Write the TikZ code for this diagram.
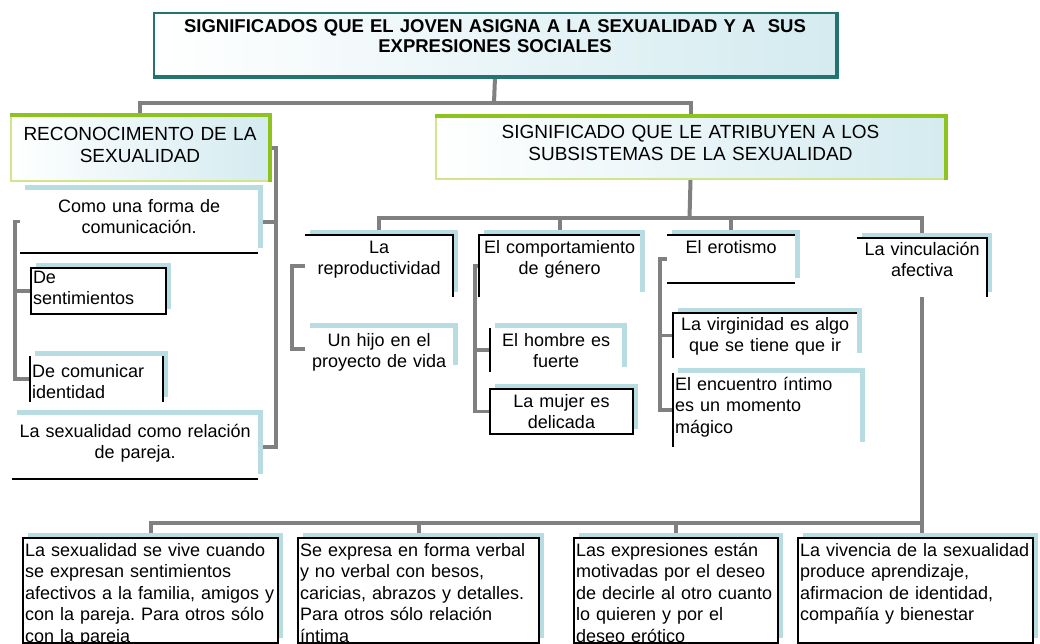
\documentclass[tikz,border=0pt]{standalone}
\usepackage{fontspec}
\setmainfont{Liberation Sans}
\usetikzlibrary{shadows, backgrounds}
\frenchspacing

\definecolor{linegray}{RGB}{128,128,128}
\definecolor{shadowblue}{RGB}{183,221,226}
\definecolor{limegreen}{RGB}{140,195,30}
\definecolor{palegreen}{RGB}{210,228,140}
\definecolor{darkteal}{RGB}{35,115,110}
\definecolor{softblue}{RGB}{212,235,240}

\tikzset{
    conn/.style={draw=linegray, line width=4pt},
    bconn/.style={draw=linegray, line width=3.5pt},
    blk/.style={draw=black, line width=2pt},
    grnedge/.style={draw=limegreen, line width=4.5pt},
    tealedge/.style={draw=darkteal, line width=4pt},
    ttlbox/.style={left color=white, right color=softblue, draw=darkteal, line width=2pt,
        inner xsep=2pt, inner ysep=0pt, align=center, font=\fontsize{18.5}{20}\selectfont\bfseries},
    hdrbox/.style={left color=white, right color=softblue, draw=palegreen, line width=2pt,
        inner xsep=2pt, inner ysep=0pt, align=center, font=\fontsize{19}{22}\selectfont},
    leaf/.style={fill=white, general shadow={fill=shadowblue, shadow xshift=5pt, shadow yshift=5pt},
        inner xsep=2pt, inner ysep=0pt, anchor=north west, font=\fontsize{18}{21.5}\selectfont},
}

\begin{document}
\begin{tikzpicture}[x=1pt, y=-1pt]
    \useasboundingbox (0,0) rectangle (1040,644);

    % Add the headers
    \node[ttlbox, anchor=north west, text width=678pt, text height=19.5pt, text depth=43.5pt] (ttl) at (153,12)
        {SIGNIFICADOS QUE EL JOVEN ASIGNA A LA SEXUALIDAD Y A\ \ SUS\\EXPRESIONES SOCIALES};
    \node[hdrbox, anchor=north west, text width=254pt, text height=25pt, text depth=40pt] (recon) at (10,115)
        {RECONOCIMENTO DE LA\\SEXUALIDAD};
    \node[hdrbox, anchor=north west, text width=505pt, text height=22pt, text depth=40pt] (signif) at (435,116)
        {SIGNIFICADO QUE LE ATRIBUYEN A LOS\\SUBSISTEMAS DE LA SEXUALIDAD};

    % Add the left column
    \node[leaf, align=center, text width=234pt, text height=22pt, text depth=41pt] (com) at (20,190)
        {Como una forma de\\comunicación.};
    \node[leaf, draw=black, line width=2pt, align=left, text width=131pt, text height=15pt, text depth=31pt] (sent) at (30,267)
        {De\\sentimientos};
    \node[leaf, align=left, text width=129pt, text height=21pt, text depth=25pt] (ident) at (30,356)
        {De comunicar\\identidad};
    \node[leaf, align=center, text width=242pt, text height=22pt, text depth=42pt] (pareja) at (12,415)
        {La sexualidad como relación\\de pareja.};

    % Add the subsystems
    \node[leaf, align=center, text width=144pt, text height=18pt, text depth=44pt] (repro) at (305,235)
        {La\\reproductividad};
    \node[leaf, align=center, text width=144pt, text height=18pt, text depth=24pt] (hijo) at (305,328)
        {Un hijo en el\\proyecto de vida};
    \node[leaf, align=center, text width=157pt, text height=18pt, text depth=44pt] (comp) at (479,235)
        {El comportamiento\\de género};
    \node[leaf, align=center, text width=128pt, text height=18pt, text depth=26pt] (fuerte) at (490,328)
        {El hombre es\\fuerte};
    \node[leaf, draw=black, line width=2pt, align=center, text width=139pt, text height=18pt, text depth=27pt] (delic) at (489,388)
        {La mujer es\\delicada};
    \node[leaf, align=center, text width=124pt, text height=18pt, text depth=30pt] (erot) at (667,235)
        {El erotismo};
    \node[leaf, align=center, text width=180pt, text height=17pt, text depth=28pt] (virg) at (673,313)
        {La virginidad es algo\\que se tiene que ir};
    \node[leaf, align=left, text width=183pt, text height=17pt, text depth=57pt] (encu) at (673,373)
        {El encuentro íntimo\\es un momento\\mágico};
    \node[leaf, align=center, text width=126pt, text height=17pt, text depth=42pt] (vinc) at (857,238)
        {La vinculación\\afectiva};

    % Add the bottom row
    \node[leaf, draw=black, line width=2pt, align=left, text width=251pt, text height=18pt, text depth=87pt] (b1) at (22,537)
        {La sexualidad se vive cuando\\se expresan sentimientos\\afectivos a la familia, amigos y\\con la pareja. Para otros sólo\\con la pareja};
    \node[leaf, draw=black, line width=2pt, align=left, text width=237pt, text height=18pt, text depth=87pt] (b2) at (297,537)
        {Se expresa en forma verbal\\y no verbal con besos,\\caricias, abrazos y detalles.\\Para otros sólo relación\\íntima};
    \node[leaf, draw=black, line width=2pt, align=left, text width=200pt, text height=18pt, text depth=87pt] (b3) at (573,537)
        {Las expresiones están\\motivadas por el deseo\\de decirle al otro cuanto\\lo quieren y por el\\deseo erótico};
    \node[leaf, draw=black, line width=2pt, align=left, text width=231pt, text height=18pt, text depth=87pt] (b4) at (797,537)
        {La vivencia de la sexualidad\\produce aprendizaje,\\afirmacion de identidad,\\compañía y bienestar};

    % Box edges
    \draw[tealedge] (ttl.north east) -- (ttl.south east) -- (ttl.south west);
    \draw[grnedge] (recon.north west) -- (recon.north east) -- (recon.south east);
    \draw[grnedge] (signif.north west) -- (signif.north east) -- (signif.south east);
    \draw[blk] (com.south west) -- (com.south east);
    \draw[blk] (ident.north west) -- (ident.south west) (ident.north east) -- (ident.south east);
    \draw[blk] (pareja.south west) -- (pareja.south east);
    \draw[blk] (repro.north west) -- (repro.north east) -- (repro.south east);
    \draw[blk] (comp.south west) -- (comp.north west) -- (comp.north east);
    \draw[blk] (fuerte.north west) -- (fuerte.south west);
    \draw[blk] (erot.north west) -- (erot.north east) (erot.south west) -- (erot.south east);
    \draw[blk] (virg.south west) -- (virg.north west) -- (virg.north east);
    \draw[blk] (encu.north west) -- (encu.south west);
    \draw[blk] (vinc.north west) -- (vinc.north east) -- (vinc.south east);

    % Connectors behind the boxes
    \begin{scope}[on background layer]
        \fill[white] (0,0) rectangle (1040,644);
        \coordinate (jtop) at (494,103);
        \coordinate (jmid) at (689.5,218);
        \coordinate (jlow) at (922,523);

        \draw[conn] (ttl.south) -- (jtop);
        \draw[conn] (recon.north) |- (jtop) -| (signif.north);

        \draw[conn] (recon.east) -- ++(6,0) |- (pareja.east);
        \draw[conn] (com.east) -- ++(16,0);
        \draw[bconn] (com.west) -- ++(-5,0) |- (ident.west);
        \draw[bconn] (sent.west) -- ++(-15,0);

        \draw[conn] (signif.south) -- (jmid);
        \draw[conn] (repro.north) |- (jmid) -| (vinc.north);
        \draw[conn] (comp.north) -- (comp.north |- jmid);
        \draw[conn] (erot.north) -- (erot.north |- jmid);

        \draw[bconn] (repro.west) -- ++(-13,0) |- (hijo.west);
        \draw[bconn] (comp.west) -- ++(-4,0) |- (delic.west);
        \draw[bconn] (fuerte.west) -- ++(-15,0);
        \draw[bconn] (erot.west) -- ++(-7,0) |- (encu.west);
        \draw[bconn] (virg.west) -- ++(-13,0);

        \draw[conn] (vinc.south) -- (vinc.south |- b4.north);
        \draw[conn] (b1.north) |- (jlow);
        \draw[conn] (b2.north) -- (b2.north |- jlow);
        \draw[conn] (b3.north) -- (b3.north |- jlow);
    \end{scope}
\end{tikzpicture}
\end{document}
